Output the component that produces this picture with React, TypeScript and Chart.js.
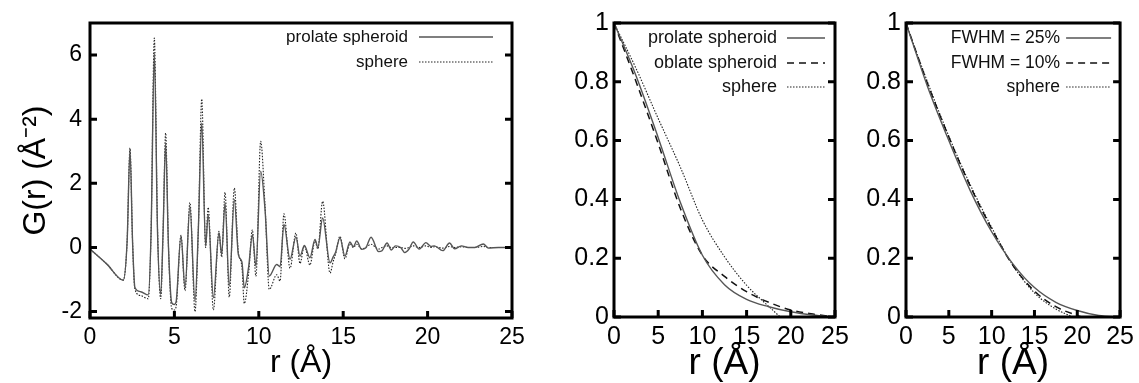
import React, { useEffect, useRef } from "react";
import { Chart, registerables } from "chart.js";
Chart.register(...registerables);

const FONT = '"Liberation Sans", Arial, Helvetica, sans-serif';

// ---------- Panel 1: G(r) ----------
const r1 = [
  0, 1.0, 1.97, 2.2, 2.37, 2.52, 2.66, 3.0, 3.45, 3.62,
  3.81, 4.0, 4.19, 4.33, 4.48, 4.65, 4.84, 5.0, 5.1, 5.39,
  5.63, 5.92, 6.22, 6.42, 6.62, 6.85, 7.0, 7.31, 7.64, 7.8,
  8.0, 8.25, 8.55, 8.79, 9.0, 9.14, 9.4, 9.62, 9.83, 10.11,
  10.37, 10.62, 11.06, 11.26, 11.49, 11.85, 12.2, 12.44, 12.7, 13.03,
  13.33, 13.5, 13.78, 14.22, 14.4, 14.55, 14.81, 15.1, 15.4, 15.6,
  15.8, 16.1, 16.33, 16.65, 17.1, 17.3, 17.6, 17.85, 18.1, 18.4,
  18.65, 18.9, 19.15, 19.5, 19.9, 20.2, 20.4, 20.9, 21.3, 21.6,
  22.0, 22.4, 22.8, 23.3, 23.6, 24.2, 25,
];
const gProlate = [
  -0.05, -0.52, -1.02, 0.2, 3.05, 0.2, -1.25, -1.38, -1.48, 0.5,
  6.06, 0.5, -1.46, 0.5, 3.26, 0.0, -1.72, -1.78, -1.7, 0.37,
  -1.26, 1.29, -1.67, 0.6, 3.88, 0.04, 1.03, -1.57, 0.46, -0.22,
  1.39, -1.2, 1.5, -0.22, -0.45, -1.26, -0.6, 0.4, -0.58, 2.38,
  1.18, -0.89, -0.53, -0.6, 0.72, -0.37, 0.33, -0.27, 0.06, -0.32,
  0.25, 0.0, 0.92, -0.48, -0.3, -0.15, 0.3, -0.27, 0.17, 0.02,
  0.2, -0.06, -0.02, 0.32, -0.13, -0.1, 0.14, -0.08, 0.05, 0.0,
  -0.16, -0.05, 0.17, -0.05, 0.15, 0.03, 0.05, -0.1, 0.14, -0.04,
  0.05, 0.0, 0.0, 0.11, -0.02, 0.0, 0.0,
];
const gSphere = [
  -0.05, -0.52, -1.02, 0.2, 3.1, 0.2, -1.3, -1.5, -1.6, 0.5,
  6.53, 0.6, -1.6, 0.5, 3.57, 0.0, -1.9, -1.95, -1.85, 0.38,
  -1.35, 1.4, -2.0, 0.6, 4.63, 0.0, 1.25, -1.95, 0.5, -0.3,
  1.72, -1.55, 1.85, -0.15, -0.6, -1.75, -0.8, 0.55, -0.9, 3.31,
  1.3, -1.31, -0.85, -1.05, 1.05, -0.65, 0.45, -0.5, 0.05, -0.55,
  0.2, -0.05, 1.44, -0.8, -0.45, -0.2, 0.35, -0.35, 0.12, 0.0,
  0.1, -0.05, 0.0, 0.1, -0.05, 0.0, 0.05, 0.0, 0.0, 0.0,
  -0.03, 0.0, 0.05, 0.0, 0.05, 0.0, 0.02, -0.02, 0.03, 0.0,
  0.02, 0.0, 0.0, 0.03, 0.0, 0.0, 0.0,
];

// ---------- Panel 2 ----------
const r2 = [0, 2.5, 5, 7.5, 10, 12.5, 15, 17.5, 20, 22.5, 25];
const p2Prolate = [1, 0.82, 0.61, 0.39, 0.21, 0.11, 0.06, 0.035, 0.018, 0.007, 0];
const p2Oblate = [1, 0.8, 0.59, 0.37, 0.21, 0.138, 0.086, 0.05, 0.024, 0.01, 0];
const r2Sphere = [0, 2.5, 5, 7.5, 10, 12.5, 15, 17.5, 18.8];
const p2Sphere = [1, 0.845, 0.675, 0.51, 0.33, 0.205, 0.108, 0.036, 0];

// ---------- Panel 3 ----------
const r3 = [0, 2.5, 5, 7.5, 10, 12.5, 15, 17.5, 20, 22.5, 25];
const p3Fwhm25 = [1, 0.785, 0.6, 0.43, 0.29, 0.18, 0.1, 0.05, 0.022, 0.005, 0];
const r3Fwhm10 = [0, 2.5, 5, 7.5, 10, 12.5, 15, 17.5, 20, 20.5];
const p3Fwhm10 = [1, 0.795, 0.612, 0.445, 0.3, 0.175, 0.088, 0.035, 0.005, 0];
const r3Sphere = [0, 2.5, 5, 7.5, 10, 12.5, 15, 17.5, 19.5];
const p3Sphere = [1, 0.8, 0.615, 0.45, 0.305, 0.175, 0.082, 0.027, 0];

const xTicks = [0, 5, 10, 15, 20, 25];

const pts = (xs: number[], ys: number[]) => xs.map((x, i) => ({ x, y: ys[i] }));

const frameTicks = {
  id: "frameTicks",
  afterDatasetsDraw(chart: any) {
    const { ctx, chartArea: a, scales } = chart;
    const len = 7;
    ctx.save();
    ctx.strokeStyle = "#000";
    ctx.lineWidth = 3;
    ctx.lineCap = "butt";
    ctx.beginPath();
    scales.y.ticks.forEach((t: any) => {
      const y = scales.y.getPixelForValue(t.value);
      ctx.moveTo(a.left, y);
      ctx.lineTo(a.left + len, y);
      ctx.moveTo(a.right, y);
      ctx.lineTo(a.right - len, y);
    });
    scales.x.ticks.forEach((t: any) => {
      const x = scales.x.getPixelForValue(t.value);
      ctx.moveTo(x, a.bottom);
      ctx.lineTo(x, a.bottom - len);
    });
    ctx.stroke();
    ctx.strokeRect(a.left, a.top, a.right - a.left, a.bottom - a.top);
    ctx.restore();
  },
};

const rightLegend = {
  id: "rightLegend",
  afterDraw(chart: any, _args: any, opts: any) {
    const { ctx, chartArea: a } = chart;
    ctx.save();
    chart.data.datasets.forEach((ds: any, i: number) => {
      const y = a.top + opts.rows[i];
      ctx.font = `${opts.fontSize}px ${FONT}`;
      ctx.fillStyle = "#111";
      ctx.textAlign = "right";
      ctx.textBaseline = "middle";
      ctx.fillText(ds.label, a.right - opts.textOffset, y);
      ctx.strokeStyle = ds.borderColor;
      ctx.lineWidth = ds.borderWidth;
      ctx.setLineDash(ds.borderDash || []);
      ctx.beginPath();
      ctx.moveTo(a.right - opts.x0, y);
      ctx.lineTo(a.right - opts.x1, y);
      ctx.stroke();
    });
    ctx.restore();
  },
};

function makeConfig(p: any) {
  return {
    type: "line",
    data: { datasets: p.datasets },
    plugins: [frameTicks, rightLegend],
    options: {
      responsive: false,
      animation: false,
      layout: { padding: { top: 23, right: p.padRight, left: 0, bottom: 0 } },
      elements: { point: { radius: 0 }, line: { cubicInterpolationMode: "monotone" } },
      plugins: {
        legend: { display: false },
        tooltip: { enabled: false },
        rightLegend: p.legend,
      },
      scales: {
        x: {
          type: "linear",
          min: 0,
          max: 25,
          afterBuildTicks: (s: any) => {
            s.ticks = xTicks.map((v) => ({ value: v }));
          },
          afterFit: (s: any) => {
            s.height = p.xHeight;
          },
          grid: { display: false, drawTicks: false },
          border: { display: false },
          ticks: {
            padding: p.xPad,
            color: "#000",
            maxRotation: 0,
            font: { family: FONT, size: p.tickSize },
          },
          title: {
            display: true,
            text: "r (Å)",
            color: "#000",
            padding: { top: 0, bottom: p.xTitlePad },
            font: { family: FONT, size: p.titleSize, lineHeight: 1 },
          },
        },
        y: {
          type: "linear",
          min: p.yMin,
          max: p.yMax,
          afterBuildTicks: (s: any) => {
            s.ticks = p.yTicks.map((v: number) => ({ value: v }));
          },
          afterFit: (s: any) => {
            s.width = p.yWidth;
          },
          grid: { display: false, drawTicks: false },
          border: { display: false },
          ticks: {
            padding: p.yPad,
            color: "#000",
            font: { family: FONT, size: p.tickSize },
            callback: (v: number) => String(Math.round(v * 10) / 10),
          },
          title: p.yTitle
            ? {
                display: true,
                text: p.yTitle,
                color: "#000",
                padding: { top: 20, bottom: 0 },
                font: { family: FONT, size: 32, lineHeight: 1 },
              }
            : { display: false },
        },
      },
    },
  };
}

const solid = { borderColor: "#555", borderWidth: 1.4, borderDash: [] as number[] };
const dashed = { borderColor: "#111", borderWidth: 1.5, borderDash: [7, 5] };
const dotted = { borderColor: "#222", borderWidth: 1.1, borderDash: [1.5, 1.5] };

const panels = [
  {
    left: 0,
    width: 545,
    cfg: () =>
      makeConfig({
        datasets: [
          { label: "prolate spheroid", data: pts(r1, gProlate), ...solid },
          { label: "sphere", data: pts(r1, gSphere), ...dotted },
        ],
        padRight: 33,
        xHeight: 65,
        yWidth: 90,
        yPad: 8,
        xPad: 6,
        yMin: -2.2,
        yMax: 7,
        yTicks: [-2, 0, 2, 4, 6],
        tickSize: 23,
        titleSize: 32,
        xTitlePad: 4,
        yTitle: "G(r) (Å⁻²)",
        legend: { textOffset: 104, x0: 93, x1: 19, rows: [14, 39], fontSize: 17 },
      }),
  },
  {
    left: 545,
    width: 310,
    cfg: () =>
      makeConfig({
        datasets: [
          { label: "prolate spheroid", data: pts(r2, p2Prolate), ...solid },
          { label: "oblate spheroid", data: pts(r2, p2Oblate), ...dashed },
          { label: "sphere", data: pts(r2Sphere, p2Sphere), ...dotted },
        ],
        padRight: 20,
        xHeight: 66,
        yWidth: 69,
        yPad: 5,
        xPad: 5,
        yMin: 0,
        yMax: 1,
        yTicks: [0, 0.2, 0.4, 0.6, 0.8, 1],
        tickSize: 25,
        titleSize: 37,
        xTitlePad: 1,
        yTitle: null,
        legend: { textOffset: 58, x0: 48, x1: 10, rows: [15, 40, 64], fontSize: 18 },
      }),
  },
  {
    left: 855,
    width: 284,
    cfg: () =>
      makeConfig({
        datasets: [
          { label: "FWHM = 25%", data: pts(r3, p3Fwhm25), ...solid },
          { label: "FWHM = 10%", data: pts(r3Fwhm10, p3Fwhm10), ...dashed },
          { label: "sphere", data: pts(r3Sphere, p3Sphere), ...dotted },
        ],
        padRight: 13,
        xHeight: 66,
        yWidth: 51,
        yPad: 5,
        xPad: 5,
        yMin: 0,
        yMax: 1,
        yTicks: [0, 0.2, 0.4, 0.6, 0.8, 1],
        tickSize: 25,
        titleSize: 37,
        xTitlePad: 1,
        yTitle: null,
        legend: { textOffset: 60, x0: 54, x1: 9, rows: [15, 40, 64], fontSize: 17.5 },
      }),
  },
];

function Panel({ left, width, cfg }: { left: number; width: number; cfg: () => any }) {
  const ref = useRef<HTMLCanvasElement | null>(null);
  useEffect(() => {
    const chart = new Chart(ref.current as HTMLCanvasElement, cfg());
    return () => chart.destroy();
  }, []);
  return (
    <div style={{ position: "absolute", left, top: 0, width, height: 383 }}>
      <canvas ref={ref} width={width} height={383} style={{ display: "block" }} />
    </div>
  );
}

export default function App() {
  return (
    <div style={{ position: "absolute", left: 0, top: 0, width: 1139, height: 383, background: "#fff" }}>
      {panels.map((p, i) => (
        <Panel key={i} left={p.left} width={p.width} cfg={p.cfg} />
      ))}
    </div>
  );
}
